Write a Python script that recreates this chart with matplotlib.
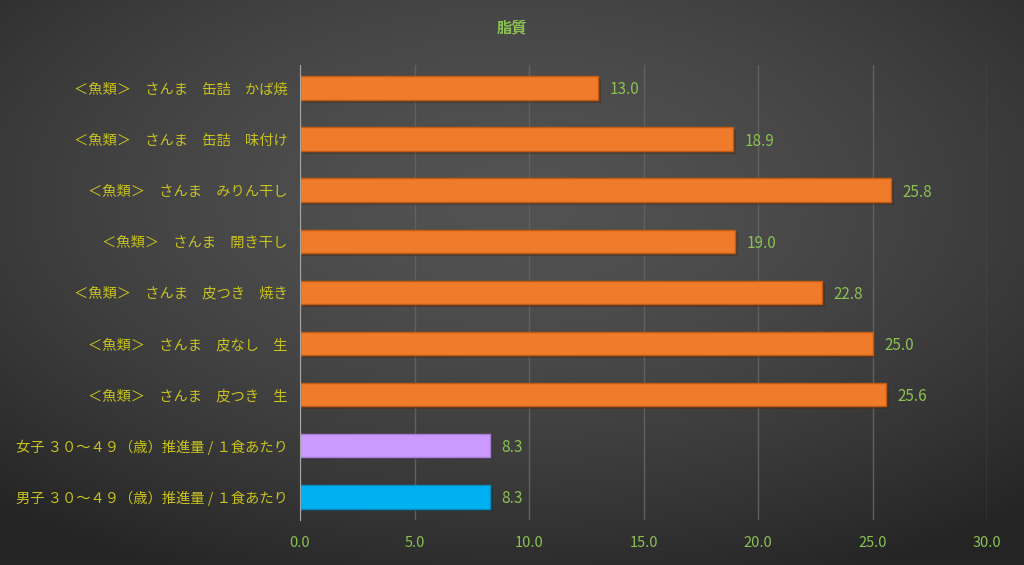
import numpy as np
import matplotlib.pyplot as plt
import matplotlib.patheffects as pe

plt.rcParams['font.family'] = ['Noto Sans CJK JP', 'DejaVu Sans']

# データ(下から上の順)
labels = [
    '男子 ３０～４９（歳）推進量 / １食あたり',
    '女子 ３０～４９（歳）推進量 / １食あたり',
    '＜魚類＞　さんま　皮つき　生',
    '＜魚類＞　さんま　皮なし　生',
    '＜魚類＞　さんま　皮つき　焼き',
    '＜魚類＞　さんま　開き干し',
    '＜魚類＞　さんま　みりん干し',
    '＜魚類＞　さんま　缶詰　味付け',
    '＜魚類＞　さんま　缶詰　かば焼',
]
values = [8.3, 8.3, 25.6, 25.0, 22.8, 19.0, 25.8, 18.9, 13.0]
colors = ['#00b0f0', '#cc99ff'] + ['#f07b2b'] * 7
edges = ['#0a8cc0', '#a97fd6'] + ['#c55a11'] * 7
xticks = [0, 5, 10, 15, 20, 25, 30]

fig = plt.figure(figsize=(10.24, 5.65), dpi=100)

# 背景の放射グラデーション
bg = fig.add_axes([0, 0, 1, 1], zorder=-10)
yy, xx = np.mgrid[-1:1:300j, -1:1:500j]
r = np.clip(np.sqrt(xx ** 2 + (yy + 0.3) ** 2) / 1.5, 0, 1)
level = (0x52 - (0x52 - 0x24) * r ** 1.6) / 255.0
img = np.dstack([level, level, level])
bg.imshow(img, aspect='auto', extent=[0, 1, 0, 1])
bg.set_axis_off()

ax = fig.add_axes([0.293, 0.080, 0.671, 0.805])
ax.patch.set_alpha(0)
y = np.arange(len(values))
bars = ax.barh(y, values, height=0.46, color=colors, edgecolor=edges, linewidth=1, zorder=3)
for b in bars:
    b.set_path_effects([pe.SimplePatchShadow(offset=(2, -2), alpha=0.4), pe.Normal()])
for yi, v in zip(y, values):
    ax.text(v + 0.5, yi, f'{v:.1f}', va='center_baseline', ha='left', color='#8cc152', fontsize=11)

ax.set_xlim(0, 30)
ax.set_ylim(-0.45, 8.45)
ax.set_xticks(xticks)
ax.set_xticklabels([f'{t:.1f}' for t in xticks])
ax.set_yticks(y)
ax.set_yticklabels(labels)
ax.tick_params(axis='x', colors='#8cc152', labelsize=10.5, length=0, pad=12)
ax.tick_params(axis='y', colors='#c8c21e', labelsize=10.3, length=0, pad=9)
ax.grid(axis='x', color='#606060', linewidth=1, zorder=0)
for s in ['top', 'right', 'bottom']:
    ax.spines[s].set_visible(False)
ax.spines['left'].set_color('#a6a6a6')
ax.spines['left'].set_zorder(4)

fig.text(0.5, 0.952, '脂質', ha='center', va='center', color='#8cc152', fontsize=11, fontweight='bold')

plt.savefig('out.png', dpi=100)
